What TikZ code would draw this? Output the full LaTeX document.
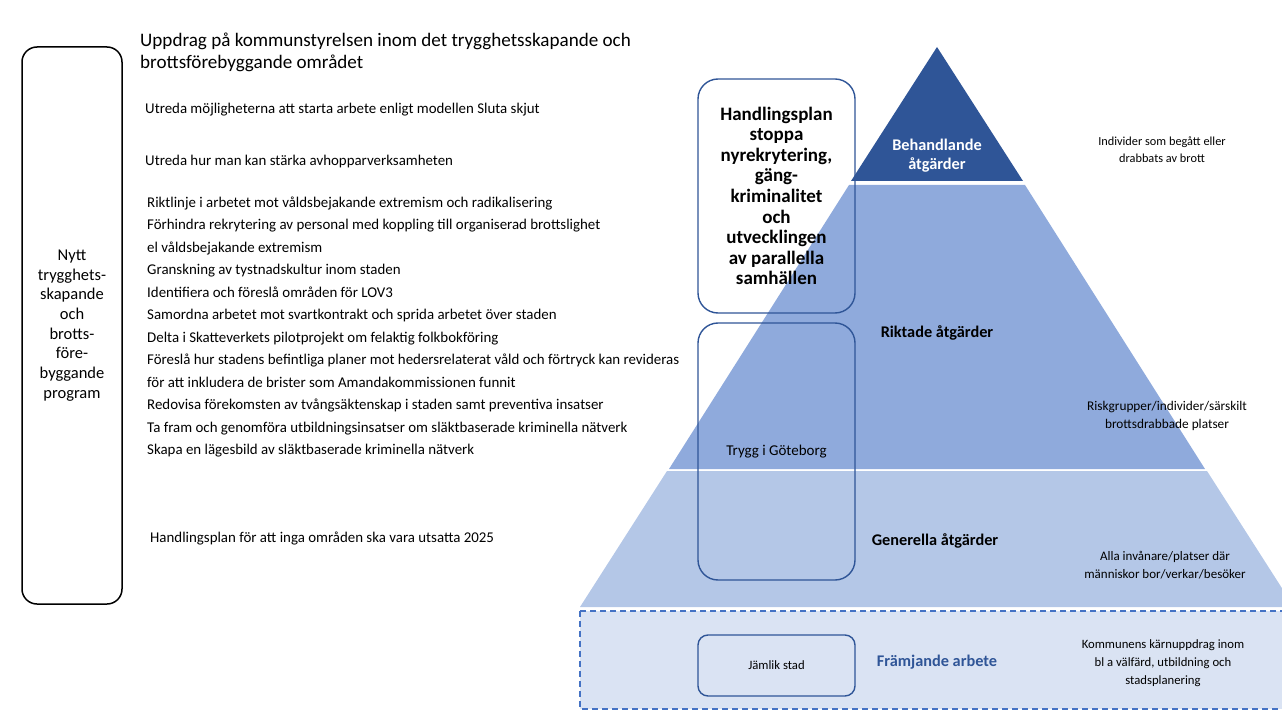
\documentclass[tikz,border=0pt]{standalone}
\usepackage{fontspec}
\setmainfont{Carlito}
\definecolor{PyrMork}{RGB}{47,85,151}
\definecolor{PyrMellan}{RGB}{143,170,220}
\definecolor{PyrLjus}{RGB}{180,199,231}
\definecolor{PyrBas}{RGB}{218,227,243}
\definecolor{Streck}{RGB}{68,114,196}

\begin{document}
\begin{tikzpicture}[x=1pt,y=-1pt,
  ruta/.style={draw=PyrMork, line width=1.4pt, rounded corners=20pt, minimum width=157pt, align=center},
  lista/.style={anchor=base west, inner sep=0pt, font=\fontsize{14.9}{16}\selectfont},
  hoger/.style={align=center, inner sep=0pt, font=\fontsize{12.3}{17.5}\selectfont},
  niva/.style={align=center, inner sep=0pt, font=\fontsize{16.3}{19}\selectfont\bfseries}]
\clip (0,0) rectangle (1282,711);
% pyramiden
\fill[PyrMork] (937,47) -- (851,181) -- (1023,181) -- cycle;
\fill[PyrMellan] (849,185) -- (1025,185) -- (1205,469) -- (669,469) -- cycle;
\fill[PyrLjus] (667,471) -- (1207,471) -- (1294,607) -- (580,607) -- cycle;
\draw[Streck, fill=PyrBas, line width=1.2pt, dash pattern=on 6pt off 4pt] (580,611) rectangle (1300,709);

% programmet till vanster
\node[draw, line width=1.5pt, rounded corners=15pt, minimum width=100pt, minimum height=557pt,
  align=center, font=\fontsize{16.5}{19.7}\selectfont] (program) at (72,325.5)
  {Nytt\\trygghets-\\skapande\\och\\brotts-\\före-\\byggande\\program};

% uppdragen
\node[lista, font=\fontsize{19.1}{22}\selectfont] (titel1) at (140,47) {Uppdrag på kommunstyrelsen inom det trygghetsskapande och};
\node[lista, font=\fontsize{19.1}{22}\selectfont] (titel2) at (140,69) {brottsförebyggande området};
\node[lista] (sluta) at (145,113.5) {Utreda möjligheterna att starta arbete enligt modellen Sluta skjut};
\node[lista] (avhopp) at (145,165.5) {Utreda hur man kan stärka avhopparverksamheten};
\foreach \t [count=\i from 0] in {
  {Riktlinje i arbetet mot våldsbejakande extremism och radikalisering},
  {Förhindra rekrytering av personal med koppling till organiserad brottslighet},
  {el våldsbejakande extremism},
  {Granskning av tystnadskultur inom staden},
  {Identifiera och föreslå områden för LOV3},
  {Samordna arbetet mot svartkontrakt och sprida arbetet över staden},
  {Delta i Skatteverkets pilotprojekt om felaktig folkbokföring},
  {Föreslå hur stadens befintliga planer mot hedersrelaterat våld och förtryck kan revideras},
  {för att inkludera de brister som Amandakommissionen funnit},
  {Redovisa förekomsten av tvångsäktenskap i staden samt preventiva insatser},
  {Ta fram och genomföra utbildningsinsatser om släktbaserade kriminella nätverk},
  {Skapa en lägesbild av släktbaserade kriminella nätverk}}
  \node[lista] (punkt\i) at (147,207.5+22.45*\i) {\t};
\node[lista] (utsatta) at (150,542.5) {Handlingsplan för att inga områden ska vara utsatta 2025};

% rutor over pyramiden
\node[ruta, minimum height=234pt, font=\fontsize{19}{20.6}\selectfont\bfseries] (handling) at (776.5,196)
  {Handlingsplan\\stoppa\\nyrekrytering,\\gäng-\\kriminalitet\\och\\utvecklingen\\av parallella\\samhällen};
\node[ruta, minimum height=257pt, font=\fontsize{15}{15}\selectfont] (trygg) at (776.5,451.5) {Trygg i Göteborg};
\node[ruta, minimum height=61pt, rounded corners=10pt, font=\fontsize{12.7}{15}\selectfont] (jamlik) at (776.5,665.5) {Jämlik stad};

% nivaerna
\node[niva, text=white] (behandlande) at (937,156) {Behandlande\\åtgärder};
\node[niva] (riktade) at (937,333) {Riktade åtgärder};
\node[niva] (generella) at (935,541) {Generella åtgärder};
\node[niva, text=PyrMork] (framjande) at (937,662) {Främjande arbete};

% malgrupper
\node[hoger] (individer) at (1162,149.5) {Individer som begått eller\\drabbats av brott};
\node[hoger, font=\fontsize{13.3}{18}\selectfont] (risk) at (1167,416) {Riskgrupper/individer/särskilt\\brottsdrabbade platser};
\node[hoger, font=\fontsize{13}{18}\selectfont] (alla) at (1165,565) {Alla invånare/platser där\\människor bor/verkar/besöker};
\node[hoger, font=\fontsize{12.7}{18}\selectfont] (karn) at (1163,663) {Kommunens kärnuppdrag inom\\bl a välfärd, utbildning och\\stadsplanering};
\end{tikzpicture}
\end{document}
